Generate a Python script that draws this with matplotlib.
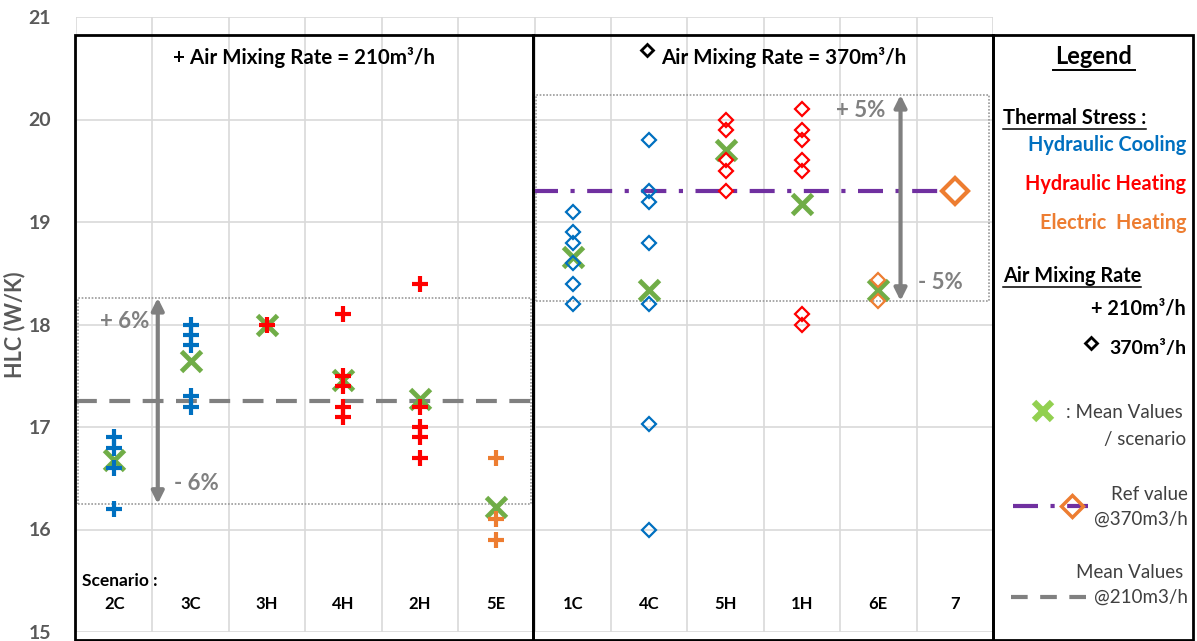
import matplotlib
matplotlib.use("Agg")
import matplotlib.pyplot as plt
from matplotlib.lines import Line2D
from matplotlib.patches import Rectangle

# ---------------- data ----------------
categories = ['2C', '3C', '3H', '4H', '2H', '5E', '1C', '4C', '5H', '1H', '6E', '7']

# Air mixing rate 210 m3/h (plus markers)
values_210 = [
    [16.9, 16.8, 16.6, 16.2],            # 2C
    [18.0, 17.9, 17.8, 17.3, 17.2],      # 3C
    [18.0],                              # 3H
    [18.1, 17.5, 17.4, 17.2, 17.1],      # 4H
    [18.4, 17.2, 17.0, 16.9, 16.7],      # 2H
    [16.7, 16.1, 15.9],                  # 5E
]
stress_210 = ['C', 'C', 'H', 'H', 'H', 'E']
mean_210 = [16.68, 17.64, 18.0, 17.46, 17.27, 16.22]

# Air mixing rate 370 m3/h (diamond markers)
values_370 = [
    [19.1, 18.9, 18.8, 18.6, 18.4, 18.2],          # 1C
    [19.8, 19.3, 19.2, 18.8, 18.2, 17.03, 16.0],   # 4C
    [20.0, 19.9, 19.6, 19.5, 19.3],                # 5H
    [20.1, 19.9, 19.8, 19.6, 19.5, 18.1, 18.0],    # 1H
    [18.43, 18.23],                                # 6E
]
stress_370 = ['C', 'C', 'H', 'H', 'E']
mean_370 = [18.66, 18.34, 19.70, 19.18, 18.34]

ref_value_370 = 19.3          # scenario 7
mean_value_210 = 17.25
band_210 = (16.25, 18.26)     # +/- 6 %
band_370 = (18.23, 20.24)     # +/- 5 %

yticks = [15, 16, 17, 18, 19, 20, 21]

# ---------------- style ----------------
colors = {'C': '#0070C0', 'H': '#FF0000', 'E': '#ED7D31'}
green = '#70AD47'
purple = '#7030A0'
gray = '#808080'
dgray = '#595959'
FONT = 'Lato'
plt.rcParams['font.family'] = [FONT, 'DejaVu Sans']

W, H = 1197, 641
fig = plt.figure(figsize=(W / 100, H / 100), dpi=100)
ax = fig.add_axes([76 / W, 1 - 632 / H, 917 / W, 615 / H])
ax.set_xlim(0, len(categories))
ax.set_ylim(15, 21)

# grid
for s in ax.spines.values():
    s.set_visible(False)
ax.set_yticks(yticks)
ax.set_yticklabels([str(t) for t in yticks], fontsize=14, fontweight='bold', color=dgray)
ax.set_xticks(range(0, len(categories) + 1))
ax.set_xticklabels([])
ax.tick_params(length=0, pad=18)
ax.grid(True, color='#D9D9D9', lw=1.2)
ax.set_axisbelow(True)
ax.set_ylabel('HLC (W/K)', fontsize=15.5, fontweight='bold', color=dgray)
ax.yaxis.set_label_coords(-0.055, 0.50)

# category labels inside plot
for i, c in enumerate(categories):
    ax.text(i + 0.5, 15.27, c, ha='center', va='center', fontsize=12,
            fontweight='bold', color='black')
ax.text(0.08, 15.5, 'Scenario :', ha='left', va='center', fontsize=12.5,
        fontweight='bold', color='black')

# bands
ax.add_patch(Rectangle((0.03, band_210[0]), 5.92, band_210[1] - band_210[0],
                       fill=False, ls=(0, (1, 1)), ec='#999999', lw=1.2))
ax.add_patch(Rectangle((6.02, band_370[0]), 5.93, band_370[1] - band_370[0],
                       fill=False, ls=(0, (1, 1)), ec='#999999', lw=1.2))

# mean line 210 and ref line 370
ax.plot([0, 5.97], [mean_value_210] * 2, ls=(0, (5, 3)), color=gray, lw=3, zorder=2)
ax.plot([5.98, 11.5], [ref_value_370] * 2, ls=(0, (6, 3, 1, 3)), color=purple, lw=3, zorder=2)

# arrows
ax.annotate('', xy=(1.07, band_210[0]), xytext=(1.07, band_210[1]),
            arrowprops=dict(arrowstyle='<|-|>', color=gray, lw=3, mutation_scale=18,
                            shrinkA=0, shrinkB=0))
ax.annotate('', xy=(10.79, band_370[0]), xytext=(10.79, band_370[1]),
            arrowprops=dict(arrowstyle='<|-|>', color=gray, lw=3, mutation_scale=18,
                            shrinkA=0, shrinkB=0))
pct_kw = dict(fontsize=16, fontweight='bold', color=gray, va='center')
ax.text(0.31, 18.03, '+ 6%', ha='left', **pct_kw)
ax.text(1.28, 16.45, '- 6%', ha='left', **pct_kw)
ax.text(10.59, 20.09, '+ 5%', ha='right', **pct_kw)
ax.text(11.02, 18.41, '- 5%', ha='left', **pct_kw)

# points 210
for i, (vals, st) in enumerate(zip(values_210, stress_210)):
    ax.plot([i + 0.5] * len(vals), vals, ls='none', marker='+', ms=11, mew=3,
            color=colors[st], zorder=4)
# points 370
for j, (vals, st) in enumerate(zip(values_370, stress_370)):
    ax.plot([j + 6.5] * len(vals), vals, ls='none', marker='D', ms=7, mew=1.6,
            mfc='none', mec=colors[st], zorder=4)
# ref scenario 7
ax.plot([11.5], [ref_value_370], ls='none', marker='D', ms=13, mew=3, mfc='white',
        mec='#ED7D31', zorder=5)
# means
ax.plot([i + 0.5 for i in range(6)], mean_210, ls='none', marker='x', ms=15, mew=3.5,
        color=green, zorder=3)
ax.plot([j + 6.5 for j in range(5)], mean_370, ls='none', marker='x', ms=15, mew=3.5,
        color=green, zorder=3)


# ---------------- figure-level decorations ----------------
def fx(px):
    return px / W


def fy(py):
    return 1 - py / H


def ftxt(xp, yp, s, **kw):
    kw.setdefault('va', 'center')
    return fig.text(fx(xp), fy(yp), s, **kw)


for x0, x1 in [(75, 533), (533, 993), (993, 1193)]:
    fig.add_artist(Rectangle((fx(x0), fy(640)), fx(x1) - fx(x0), fy(35) - fy(640),
                             transform=fig.transFigure, fill=False, ec='black', lw=2))

ftxt(304, 57, '+ Air Mixing Rate = 210m³/h', ha='center', fontsize=14.8, fontweight='bold')
ftxt(784, 57, 'Air Mixing Rate = 370m³/h', ha='center', fontsize=14.8, fontweight='bold')
fig.add_artist(Line2D([fx(647)], [fy(50)], transform=fig.transFigure, marker='D', ms=6,
                      mew=2, mfc='none', mec='black', ls='none'))

# legend panel
ftxt(1094, 57, 'Legend', ha='center', fontsize=17, fontweight='bold')
fig.add_artist(Line2D([fx(1053), fx(1135)], [fy(70), fy(70)], transform=fig.transFigure,
                      color='black', lw=1.4))
ftxt(1003, 118, 'Thermal Stress :', ha='left', fontsize=14.5, fontweight='bold')
fig.add_artist(Line2D([fx(1003), fx(1146)], [fy(129), fy(129)], transform=fig.transFigure,
                      color='black', lw=1.1))
ftxt(1186, 145, 'Hydraulic Cooling', ha='right', fontsize=14.3, fontweight='bold', color=colors['C'])
ftxt(1186, 184, 'Hydraulic Heating', ha='right', fontsize=14.3, fontweight='bold', color=colors['H'])
ftxt(1186, 223, 'Electric  Heating', ha='right', fontsize=14.3, fontweight='bold', color=colors['E'])
ftxt(1003, 276, 'Air Mixing Rate', ha='left', fontsize=14.3, fontweight='bold')
fig.add_artist(Line2D([fx(1003), fx(1141)], [fy(287), fy(287)], transform=fig.transFigure,
                      color='black', lw=1.1))
ftxt(1186, 309, '+ 210m³/h', ha='right', fontsize=14.3, fontweight='bold')
ftxt(1186, 348, '370m³/h', ha='right', fontsize=14, fontweight='bold')
fig.add_artist(Line2D([fx(1091)], [fy(343)], transform=fig.transFigure, marker='D', ms=6,
                      mew=2, mfc='none', mec='black', ls='none'))
fig.add_artist(Line2D([fx(1043)], [fy(411)], transform=fig.transFigure, marker='x', ms=13,
                      mew=4.5, color='#92D050', ls='none'))
ftxt(1183, 412, ': Mean Values', ha='right', fontsize=13.5, color='#404040')
ftxt(1186, 439, '/ scenario', ha='right', fontsize=13.5, color='#404040')
ftxt(1188, 494, 'Ref value', ha='right', fontsize=13.5, color='#404040')
ftxt(1188, 519, '@370m3/h', ha='right', fontsize=13.5, color='#404040')
fig.add_artist(Line2D([fx(1013), fx(1088)], [fy(506), fy(506)], transform=fig.transFigure,
                      ls=(0, (6, 3, 1, 3)), color=purple, lw=3))
fig.add_artist(Line2D([fx(1072)], [fy(506)], transform=fig.transFigure, marker='D', ms=11,
                      mew=2.5, mfc='none', mec='#ED7D31', ls='none'))
ftxt(1183, 572, 'Mean Values', ha='right', fontsize=13.5, color='#404040')
ftxt(1188, 597, '@210m3/h', ha='right', fontsize=13.5, color='#404040')
fig.add_artist(Line2D([fx(1011), fx(1086)], [fy(597), fy(597)], transform=fig.transFigure,
                      ls=(0, (4, 3)), color=gray, lw=3))

fig.savefig('out.png', dpi=100)
